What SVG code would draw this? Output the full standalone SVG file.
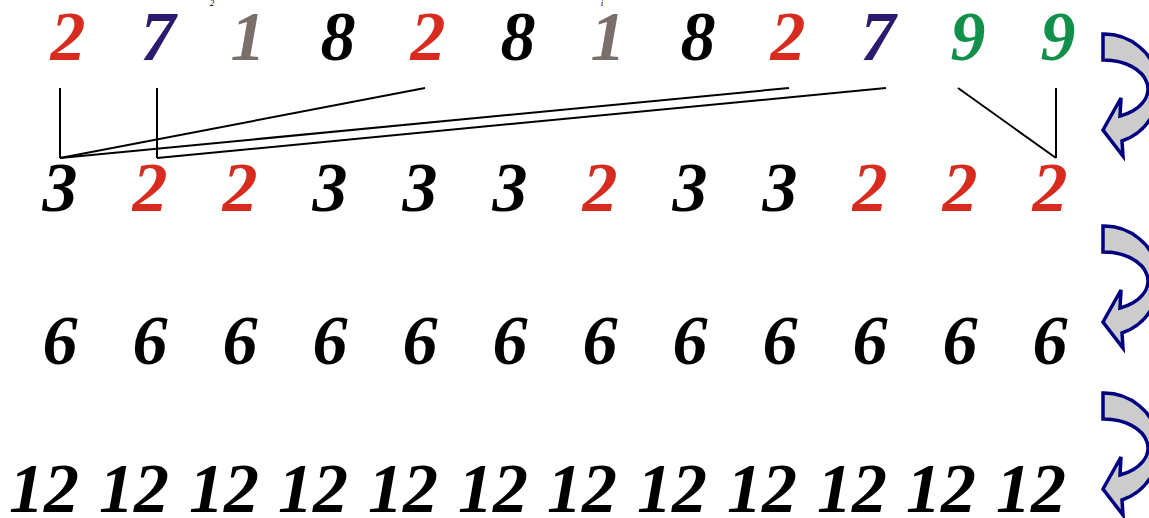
<svg xmlns="http://www.w3.org/2000/svg" width="1149" height="518" viewBox="0 0 1149 518">
<style>
.d{font-family:"Liberation Serif","Times New Roman",serif;font-weight:bold;font-style:italic;font-size:70px;text-anchor:middle}
.r{fill:#d62b1e}.p{fill:#2c1a6e}.g{fill:#7a6f6a}.k{fill:#000}.gr{fill:#10904a}
.s{font-family:"Liberation Serif",serif;font-style:italic;font-size:9px;fill:#000;text-anchor:middle}
.ln{stroke:#000;stroke-width:2;fill:none}
.arr{fill:#cccccc;stroke:#000080;stroke-width:3.5;stroke-linejoin:miter}
</style>
<defs>
<path id="ca" class="arr" d="M0 0 A55 55 0 0 1 19 107 L20 122 L0 96 L18 64 L17 82 A44 29 0 0 0 0 26 Z"/>
</defs>
<rect width="1149" height="518" fill="#fff"/>
<g id="small-labels">
<text class="s" x="212" y="6">2</text>
<text class="s" x="602" y="6">i</text>
</g>
<g id="row1">
<text class="d r" x="68" y="60">2</text>
<text class="d p" x="158" y="60">7</text>
<text class="d g" x="248" y="60">1</text>
<text class="d k" x="338" y="60">8</text>
<text class="d r" x="428" y="60">2</text>
<text class="d k" x="518" y="60">8</text>
<text class="d g" x="608" y="60">1</text>
<text class="d k" x="698" y="60">8</text>
<text class="d r" x="788" y="60">2</text>
<text class="d p" x="878" y="60">7</text>
<text class="d gr" x="968" y="60">9</text>
<text class="d gr" x="1058" y="60">9</text>
</g>
<g id="connectors">
<line class="ln" x1="60" y1="88" x2="60" y2="158"/>
<line class="ln" x1="157" y1="88" x2="157" y2="158"/>
<line class="ln" x1="60" y1="158" x2="425" y2="88"/>
<line class="ln" x1="60" y1="158" x2="789" y2="88"/>
<line class="ln" x1="157" y1="158" x2="886" y2="88"/>
<line class="ln" x1="958" y1="88" x2="1056" y2="158"/>
<line class="ln" x1="1056" y1="88" x2="1056" y2="158"/>
</g>
<g id="row2">
<text class="d k" x="60" y="211">3</text>
<text class="d r" x="150" y="211">2</text>
<text class="d r" x="240" y="211">2</text>
<text class="d k" x="330" y="211">3</text>
<text class="d k" x="420" y="211">3</text>
<text class="d k" x="510" y="211">3</text>
<text class="d r" x="600" y="211">2</text>
<text class="d k" x="690" y="211">3</text>
<text class="d k" x="780" y="211">3</text>
<text class="d r" x="870" y="211">2</text>
<text class="d r" x="960" y="211">2</text>
<text class="d r" x="1050" y="211">2</text>
</g>
<g id="row3">
<text class="d k" x="60" y="364">6</text>
<text class="d k" x="150" y="364">6</text>
<text class="d k" x="240" y="364">6</text>
<text class="d k" x="330" y="364">6</text>
<text class="d k" x="420" y="364">6</text>
<text class="d k" x="510" y="364">6</text>
<text class="d k" x="600" y="364">6</text>
<text class="d k" x="690" y="364">6</text>
<text class="d k" x="780" y="364">6</text>
<text class="d k" x="870" y="364">6</text>
<text class="d k" x="960" y="364">6</text>
<text class="d k" x="1050" y="364">6</text>
</g>
<g id="row4">
<text class="d k" x="44" y="512">12</text>
<text class="d k" x="134" y="512">12</text>
<text class="d k" x="224" y="512">12</text>
<text class="d k" x="313" y="512">12</text>
<text class="d k" x="403" y="512">12</text>
<text class="d k" x="493" y="512">12</text>
<text class="d k" x="582" y="512">12</text>
<text class="d k" x="672" y="512">12</text>
<text class="d k" x="762" y="512">12</text>
<text class="d k" x="852" y="512">12</text>
<text class="d k" x="941" y="512">12</text>
<text class="d k" x="1031" y="512">12</text>
</g>
<g id="arrow1"><use href="#ca" x="1103" y="34"/></g>
<g id="arrow2"><use href="#ca" x="1103" y="226"/></g>
<g id="arrow3"><use href="#ca" x="1103" y="393"/></g>
</svg>
